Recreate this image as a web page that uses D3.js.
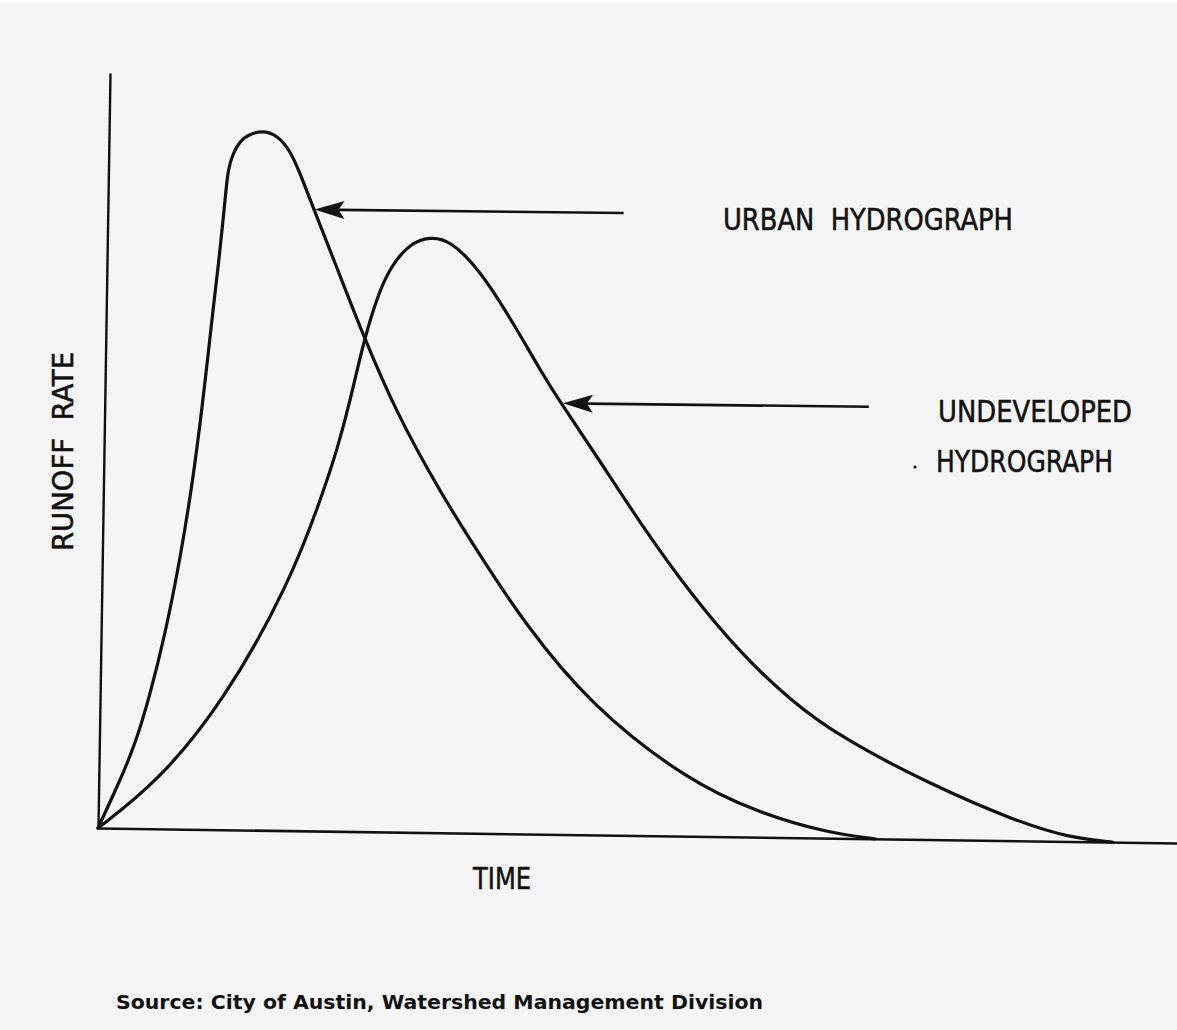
<!DOCTYPE html>
<html lang="en">
<head>
  <meta charset="UTF-8">
  <title>Urban vs undeveloped hydrograph</title>
  <style>
    body { margin: 0; background: #f5f5f5; }
    text { fill: #111; white-space: pre; }
  </style>
</head>
<body>
  <script src="https://d3js.org/d3.v7.min.js"></script>
  <script>
    // values (time and rate in arbitrary units, 0-100)
    const urbanTime = [0, 1.79, 3.31, 4.62, 5.92, 7.20, 8.29, 9.10, 9.50, 9.89, 10.37, 10.69, 10.92, 11.08, 11.51, 12.15, 12.79, 14.17, 15.57, 16.79, 17.75, 19.01, 21.32, 23.83, 26.9, 31.2, 35.0, 39.1, 45.4, 54.5, 61.2, 67.6, 72];
    const urbanRate = [0, 5.73, 11.06, 17.71, 25.68, 35.64, 46.26, 56.9, 62.8, 68.8, 75.4, 80.7, 84.7, 87.4, 89.6, 91.2, 92.0, 92.7, 92.1, 90.1, 87.1, 82.6, 74.6, 65.8, 55.9, 45.1, 36.8, 28.1, 17.2, 7.4, 3.2, 0.7, 0];

    const undevTime = [0, 5.4, 11.4, 17.43, 20.35, 21.59, 22.72, 23.84, 25.07, 26.23, 28.04, 29.89, 31.74, 34.57, 37.71, 40.57, 42.37, 45.69, 49.77, 54.51, 59.23, 63.94, 68.63, 77.2, 85.2, 90.1, 94];
    const undevRate = [0, 6.1, 16.8, 32.8, 44.8, 50.5, 56.9, 64.6, 70.8, 74.8, 78.0, 78.9, 78.5, 74.6, 67.7, 60.8, 56.9, 50.1, 41.4, 32.2, 24.4, 18.2, 13.4, 7.2, 2.5, 0.5, 0];

    // arrow annotations: [tip, tail] as [time, rate]
    const urbanArrow = [[19.15, 82.3], [47.8, 82.4]];
    const undevArrow = [[42.45, 57.1], [70.8, 57.2]];

    const xLabel = 'TIME';
    const yLabel = 'RUNOFF  RATE';
    const source = 'Source: City of Austin, Watershed Management Division';

    const width = 1177;
    const height = 1030;
    const font = '"Liberation Sans Narrow", "DejaVu Sans Condensed", "Liberation Sans", sans-serif';

    const svg = d3.select('body')
      .append('svg')
      .attr('width', width)
      .attr('height', height)

    svg.append('rect')
      .attr('width', width)
      .attr('height', height)
      .attr('fill', '#f5f5f5')
    svg.append('rect')
      .attr('width', width)
      .attr('height', 3)
      .attr('fill', '#fff')

    const x = d3.scaleLinear().domain([0, 100]).range([0, 1079]);
    const y = d3.scaleLinear().domain([0, 100]).range([0, -755]);

    // the scan is slightly skewed, so the plot frame is sheared a bit
    const plot = svg.append('g')
      .attr('transform', 'matrix(1, 0.0139, -0.0159, 1, 98, 828)')

    plot.append('g')
      .call(d3.axisBottom(x).tickValues([]).tickSizeOuter(0))
      .call(g => g.select('.domain').attr('stroke', '#111').attr('stroke-width', 2.6))
    plot.append('g')
      .call(d3.axisLeft(y).tickValues([]).tickSizeOuter(0))
      .call(g => g.select('.domain').attr('stroke', '#111').attr('stroke-width', 2.4))

    // basis smooths out the reading noise of the hand-drawn curves
    const line = d3.line()
      .x(d => x(d[0]))
      .y(d => y(d[1]))
      .curve(d3.curveBasis)

    const urban = urbanTime.map((t, i) => [t, urbanRate[i]]);
    const undev = undevTime.map((t, i) => [t, undevRate[i]]);

    plot.selectAll('path.curve')
      .data([urban, undev])
      .enter()
      .append('path')
      .attr('class', 'curve')
      .attr('d', line)
      .attr('fill', 'none')
      .attr('stroke', '#111')
      .attr('stroke-width', 3.2)
      .attr('stroke-linejoin', 'round')
      .attr('stroke-linecap', 'round')

    const arrows = plot.selectAll('g.arrow')
      .data([urbanArrow, undevArrow])
      .enter()
      .append('g')
      .attr('class', 'arrow')

    arrows.append('line')
      .attr('x1', d => x(d[0][0]) + 24)
      .attr('y1', d => y(d[0][1]))
      .attr('x2', d => x(d[1][0]))
      .attr('y2', d => y(d[1][1]))
      .attr('stroke', '#111')
      .attr('stroke-width', 2.6)

    arrows.append('path')
      .attr('transform', d => `translate(${x(d[0][0])},${y(d[0][1])})`)
      .attr('d', 'M0,0 L30,-9 L24,0 L30,9 Z')
      .attr('fill', '#111')

    // labels
    const labels = [
      { text: 'URBAN  HYDROGRAPH', x: 723, y: 230, len: 290 },
      { text: 'UNDEVELOPED', x: 938, y: 422, len: 194 },
      { text: 'HYDROGRAPH', x: 936, y: 472, len: 177 },
      { text: xLabel, x: 473, y: 889, len: 58 }
    ];
    svg.selectAll('text.label')
      .data(labels)
      .enter()
      .append('text')
      .attr('class', 'label')
      .attr('x', d => d.x)
      .attr('y', d => d.y)
      .attr('textLength', d => d.len)
      .attr('lengthAdjust', 'spacingAndGlyphs')
      .attr('stroke', '#111')
      .attr('stroke-width', 0.5)
      .style('font-family', font)
      .style('font-size', '30px')
      .text(d => d.text)

    svg.append('circle')
      .attr('cx', 915)
      .attr('cy', 467)
      .attr('r', 1.6)
      .attr('fill', '#111')

    svg.append('text')
      .attr('transform', 'translate(73,551) rotate(-90)')
      .attr('textLength', 199)
      .attr('lengthAdjust', 'spacingAndGlyphs')
      .attr('stroke', '#111')
      .attr('stroke-width', 0.5)
      .style('font-family', font)
      .style('font-size', '29px')
      .text(yLabel)

    svg.append('text')
      .attr('x', 116)
      .attr('y', 1009)
      .attr('textLength', 647)
      .attr('lengthAdjust', 'spacingAndGlyphs')
      .style('font-family', '"DejaVu Sans", sans-serif')
      .style('font-size', '19px')
      .style('font-weight', 'bold')
      .text(source)
  </script>
</body>
</html>
